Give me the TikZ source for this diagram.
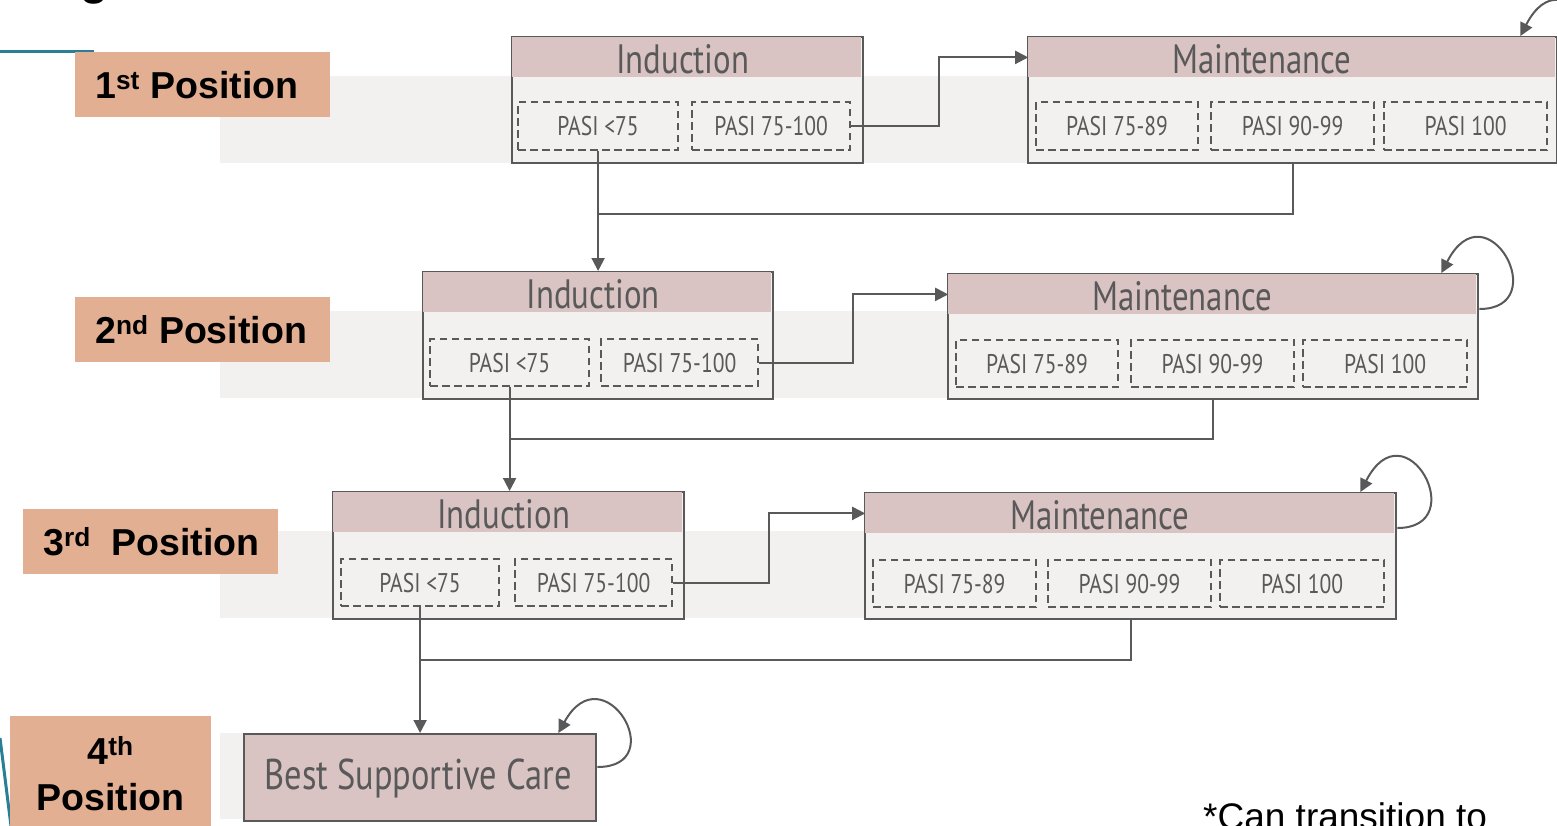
\documentclass[tikz,border=0pt]{standalone}
\usepackage{fontspec}
\setmainfont{Liberation Sans}
\newfontfamily\cond[FakeStretch=0.8]{PT Sans}
\usetikzlibrary{arrows.meta,calc}
\definecolor{dk}{HTML}{595959}
\definecolor{hdr}{HTML}{D9C3C3}
\definecolor{bdy}{HTML}{F2F1F0}
\definecolor{org}{HTML}{E3AF93}
\definecolor{tealc}{HTML}{2A7F96}
\begin{document}
\begin{tikzpicture}[x=1pt,y=-1pt,
  tealline/.style={draw=tealc, line width=3pt},
  posbox/.style={fill=org, draw=none, anchor=north west, inner sep=0pt},
  postext/.style={anchor=west, inner sep=0pt, font=\bfseries\fontsize{37.5}{46}\selectfont, text=black},
  outer/.style={draw=dk, line width=2.4pt, fill=bdy, inner sep=0pt, anchor=north west},
  header/.style={fill=hdr, draw=none, inner sep=0pt, anchor=north west},
  htext/.style={inner sep=0pt, text=dk, font=\cond\fontsize{41}{41}\selectfont},
  dbox/.style={draw=dk, line width=2.2pt, dash pattern=on 7.5pt off 4.5pt, inner sep=0pt, anchor=north west, text=dk, font=\cond\fontsize{27}{27}\selectfont},
  bsc/.style={draw=dk, line width=2.4pt, fill=hdr, inner sep=0pt, anchor=north west},
  conn/.style={draw=dk, line width=2pt},
  arr/.style={conn, -{Triangle[length=13pt,width=13pt]}},
  note/.style={anchor=base west, inner sep=0pt, font=\fontsize{37}{37}\selectfont, text=black}
]
\useasboundingbox (0,0) rectangle (1557,825);
\clip (0,0) rectangle (1557,825);

% title fragment
\node[anchor=base west, inner sep=0pt, font=\bfseries\fontsize{46}{46}\selectfont] (ttl) at (39,-6) {Figure};

% teal accents
\draw[tealline] (0,51) -- (94,51);
\draw[tealline] (0,738) -- (11,826);

% grey bands
\fill[bdy] (220,76) rectangle (1557,163);
\fill[bdy] (220,311) rectangle (1477,398);
\fill[bdy] (220,531) rectangle (1395,618);
\fill[bdy] (220,733) rectangle (243,819);

% position labels
\node[posbox, minimum width=255pt, minimum height=65pt] (p1) at (75,52) {};
\node[postext] (p1t) at ([xshift=20pt]p1.west) {1\textsuperscript{st} Position};
\node[posbox, minimum width=255pt, minimum height=65pt] (p2) at (75,297) {};
\node[postext] (p2t) at ([xshift=20pt]p2.west) {2\textsuperscript{nd} Position};
\node[posbox, minimum width=255pt, minimum height=65pt] (p3) at (23,509) {};
\node[postext] (p3t) at ([xshift=20pt]p3.west) {3\textsuperscript{rd}\ \ Position};
\node[posbox, minimum width=201pt, minimum height=115pt] (p4) at (10,716) {};
\node[postext, anchor=center, align=center] (p4t) at (p4.center) {4\textsuperscript{th}\\Position};

% ---------- Row 1 ----------
\node[outer, minimum width=351pt, minimum height=126pt] (i1) at (511,36) {};
\node[header, minimum width=348.6pt, minimum height=40pt] (i1h) at (512.2,37.2) {};
\node[htext] (i1t) at ([xshift=-4pt,yshift=-2pt]i1h.center) {Induction};
\node[dbox, minimum width=160pt, minimum height=48pt] (d11) at (517,101) {PASI <75};
\node[dbox, minimum width=158pt, minimum height=48pt] (d12) at (691,101) {PASI 75-100};

\node[outer, minimum width=529pt, minimum height=126pt] (m1) at (1027,36) {};
\node[header, minimum width=526.6pt, minimum height=40pt] (m1h) at (1028.2,37.2) {};
\node[htext] (m1t) at ([xshift=-30pt,yshift=-2pt]m1h.center) {Maintenance};
\node[dbox, minimum width=162pt, minimum height=48pt] (e11) at (1035,101) {PASI 75-89};
\node[dbox, minimum width=163pt, minimum height=48pt] (e12) at (1210,101) {PASI 90-99};
\node[dbox, minimum width=163pt, minimum height=48pt] (e13) at (1383,101) {PASI 100};

% ---------- Row 2 ----------
\node[outer, minimum width=350pt, minimum height=127pt] (i2) at (422,271) {};
\node[header, minimum width=347.6pt, minimum height=40pt] (i2h) at (423.2,272.2) {};
\node[htext] (i2t) at ([xshift=-4pt,yshift=-2pt]i2h.center) {Induction};
\node[dbox, minimum width=159pt, minimum height=47pt] (d21) at (429,338) {PASI <75};
\node[dbox, minimum width=157pt, minimum height=47pt] (d22) at (600,338) {PASI 75-100};

\node[outer, minimum width=530pt, minimum height=125pt] (m2) at (947,273) {};
\node[header, minimum width=527.6pt, minimum height=40pt] (m2h) at (948.2,274.2) {};
\node[htext] (m2t) at ([xshift=-30pt,yshift=-2pt]m2h.center) {Maintenance};
\node[dbox, minimum width=162pt, minimum height=47pt] (e21) at (955,339) {PASI 75-89};
\node[dbox, minimum width=163pt, minimum height=47pt] (e22) at (1130,339) {PASI 90-99};
\node[dbox, minimum width=164pt, minimum height=47pt] (e23) at (1302,339) {PASI 100};

% ---------- Row 3 ----------
\node[outer, minimum width=351pt, minimum height=127pt] (i3) at (332,491) {};
\node[header, minimum width=348.6pt, minimum height=40pt] (i3h) at (333.2,492.2) {};
\node[htext] (i3t) at ([xshift=-4pt,yshift=-2pt]i3h.center) {Induction};
\node[dbox, minimum width=158pt, minimum height=47pt] (d31) at (340,558) {PASI <75};
\node[dbox, minimum width=157pt, minimum height=47pt] (d32) at (514,558) {PASI 75-100};

\node[outer, minimum width=531pt, minimum height=126pt] (m3) at (864,492) {};
\node[header, minimum width=528.6pt, minimum height=40pt] (m3h) at (865.2,493.2) {};
\node[htext] (m3t) at ([xshift=-30pt,yshift=-2pt]m3h.center) {Maintenance};
\node[dbox, minimum width=163pt, minimum height=47pt] (e31) at (872,559) {PASI 75-89};
\node[dbox, minimum width=163pt, minimum height=47pt] (e32) at (1047,559) {PASI 90-99};
\node[dbox, minimum width=164pt, minimum height=47pt] (e33) at (1219,559) {PASI 100};

% ---------- Row 4 ----------
\node[bsc, minimum width=352pt, minimum height=87pt] (b) at (243,733) {};
\node[htext, font=\cond\fontsize{43}{43}\selectfont] (bt) at ([xshift=-2pt,yshift=-1pt]b.center) {Best Supportive Care};

% note
\node[note] (nt) at (1203,829) {*Can transition to};

% ---------- connectors ----------
\draw[arr] (d12.east) -- ++(88,0) |- (m1h.west);
\draw[arr] (d22.east) -- ++(94,0) |- (m2h.west);
\draw[arr] (d32.east) -- ++(96,0) |- (m3h.west);

\draw[arr] (d11.south) -- (d11.south |- i2.north);
\draw[arr] (d21.south) -- (d21.south |- i3.north);
\draw[arr] (d31.south) -- (d31.south |- b.north);

\coordinate (j1) at (d11.south |- 0,214);
\coordinate (j2) at (d21.south |- 0,439);
\coordinate (j3) at (d31.south |- 0,660);
\draw[conn] (m1.south) |- (j1);
\draw[conn] (m2.south) |- (j2);
\draw[conn] (m3.south) |- (j3);

% self loops
\draw[arr] ([yshift=-36pt]m1.north east) .. controls +(75,0) and +(45,-88) .. ([xshift=-38pt]m1.north east);
\draw[arr] ([yshift=-36pt]m2.north east) .. controls +(75,0) and +(45,-88) .. ([xshift=-38pt]m2.north east);
\draw[arr] ([yshift=-36pt]m3.north east) .. controls +(75,0) and +(45,-88) .. ([xshift=-37pt]m3.north east);
\draw[arr] ([yshift=-34pt]b.north east) .. controls +(75,0) and +(45,-82) .. ([xshift=-39pt]b.north east);
\end{tikzpicture}
\end{document}
